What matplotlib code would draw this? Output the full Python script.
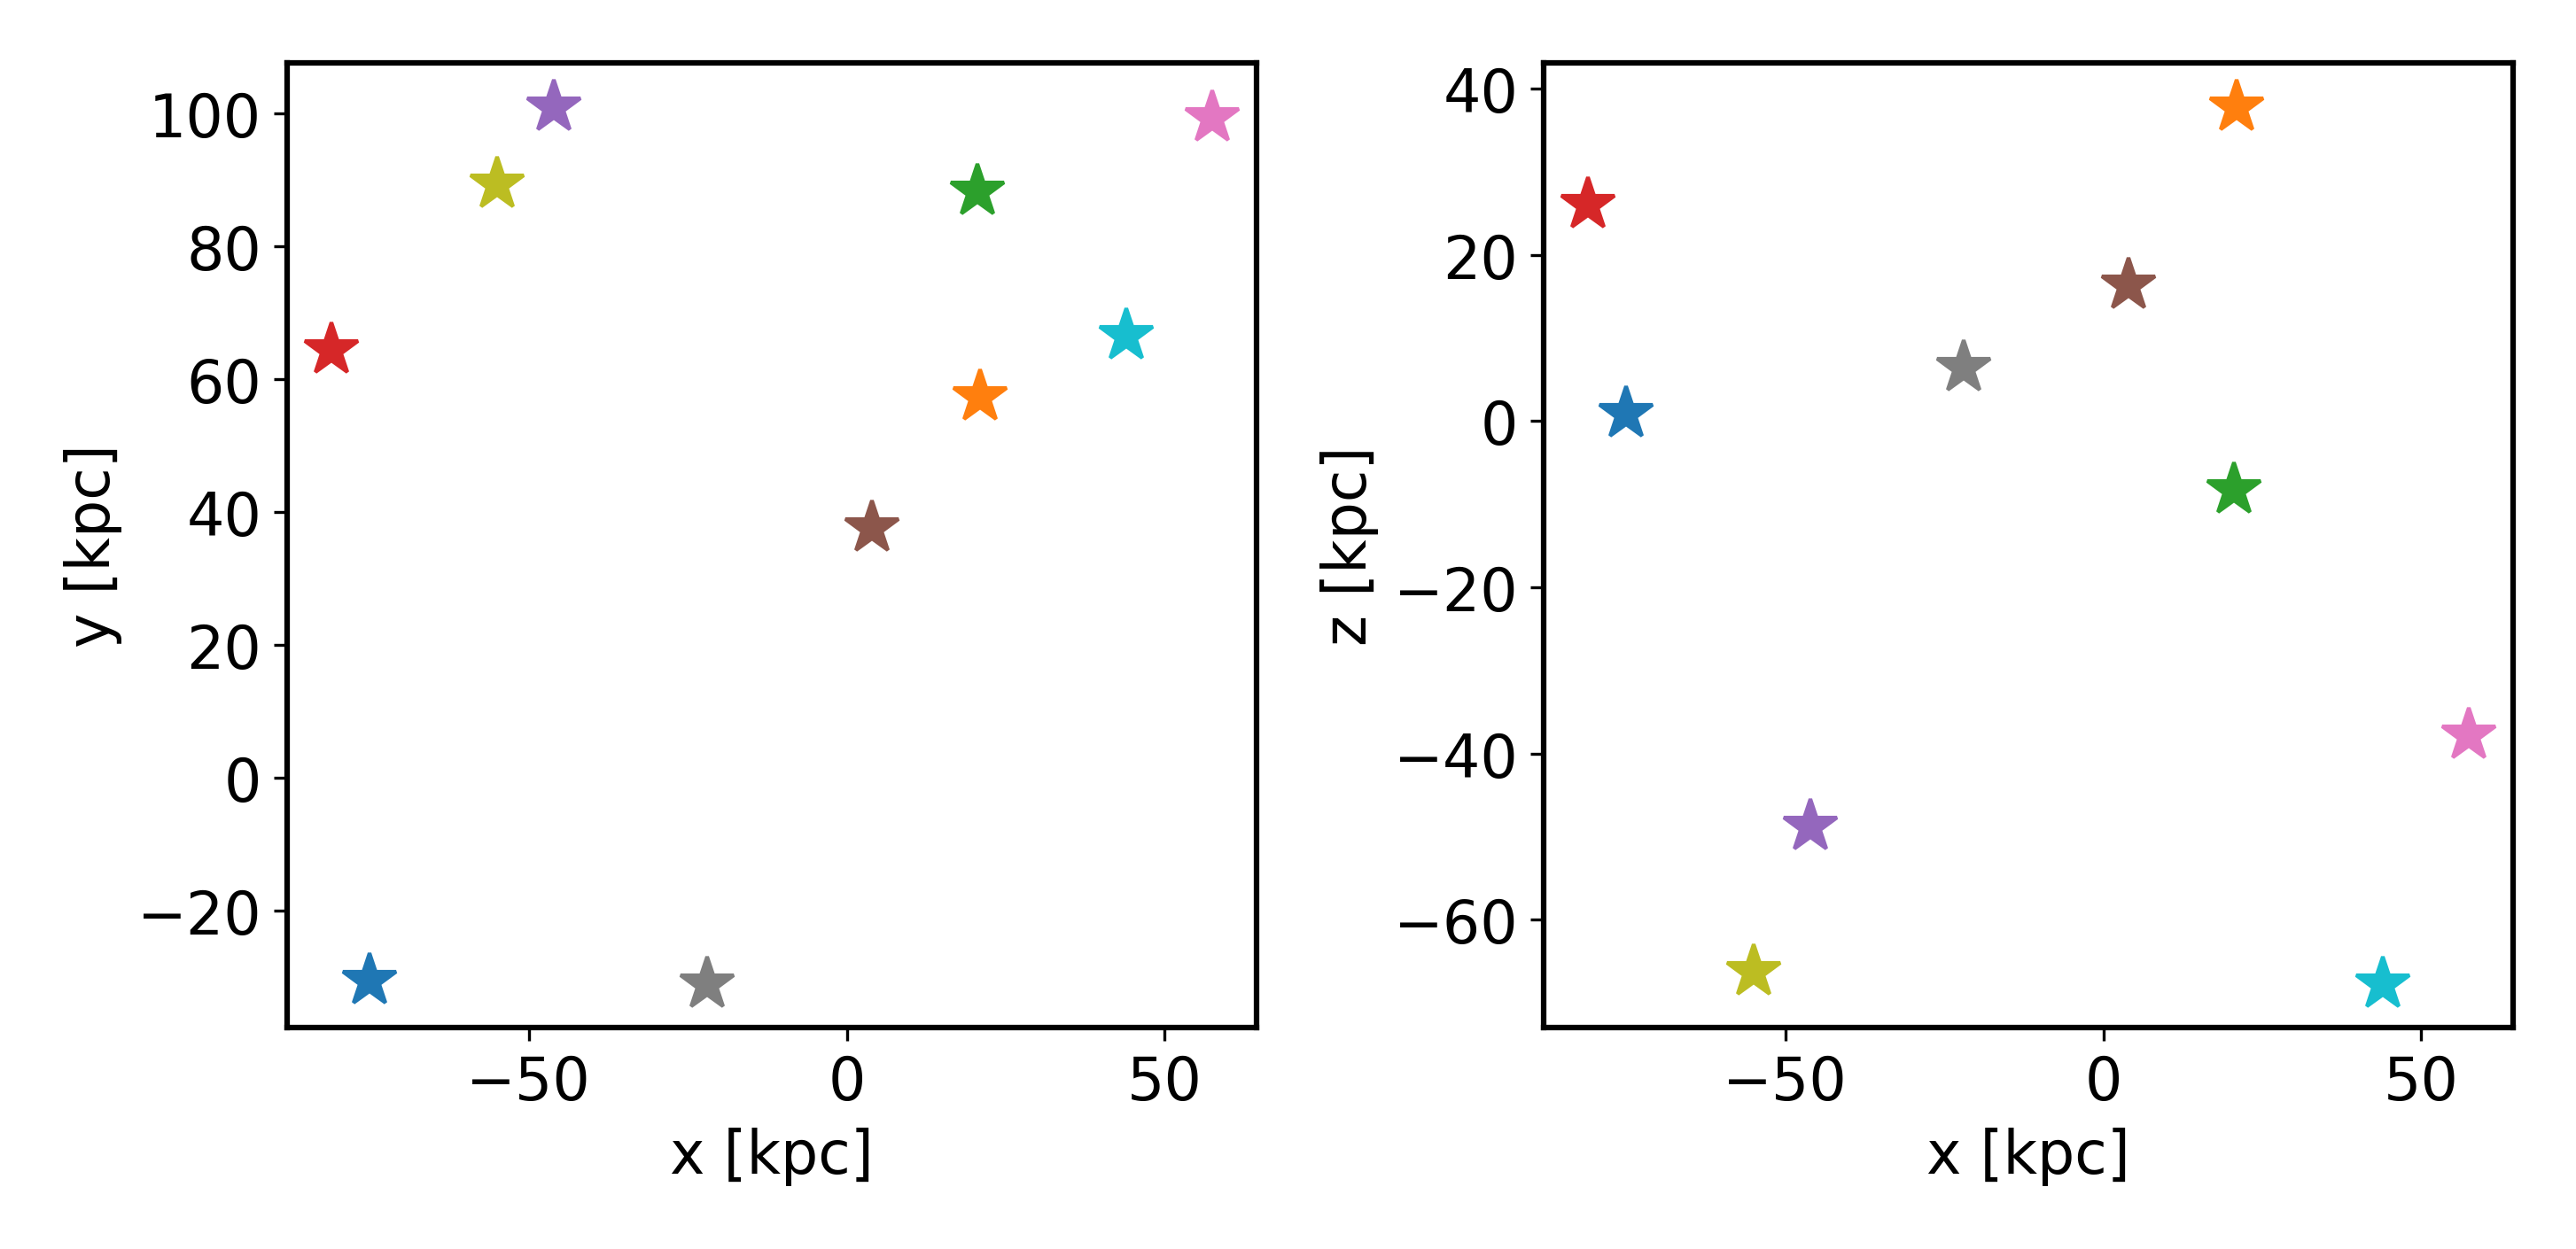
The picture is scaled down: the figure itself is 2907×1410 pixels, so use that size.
import matplotlib
matplotlib.use("Agg")
import matplotlib.pyplot as plt
from matplotlib.ticker import MultipleLocator
import numpy as np

# positions of the objects [kpc]
x = np.array([-75.0, 21.0, 20.5, -81.0, -46.0, 4.0, 57.5, -22.0, -55.0, 44.0])
y = np.array([-30.5, 57.3, 88.3, 64.4, 101.0, 37.6, 99.3, -31.0, 89.4, 66.5])
z = np.array([0.9, 37.8, -8.3, 26.0, -48.8, 16.3, -37.8, 6.4, -66.2, -67.7])

plt.rcParams['font.size'] = 16
plt.rcParams['axes.linewidth'] = 1.5

fig, (ax1, ax2) = plt.subplots(1, 2, figsize=(9.693, 4.703), dpi=300)

for i in range(len(x)):
    ax1.plot(x[i], y[i], '*', ms=15)
    ax2.plot(x[i], z[i], '*', ms=15)

ax1.set_xlabel('x [kpc]')
ax1.set_ylabel('y [kpc]')
ax2.set_xlabel('x [kpc]')
ax2.set_ylabel('z [kpc]')
for ax in (ax1, ax2):
    ax.xaxis.set_major_locator(MultipleLocator(50))

fig.tight_layout()
fig.savefig("out.png", dpi=300)
